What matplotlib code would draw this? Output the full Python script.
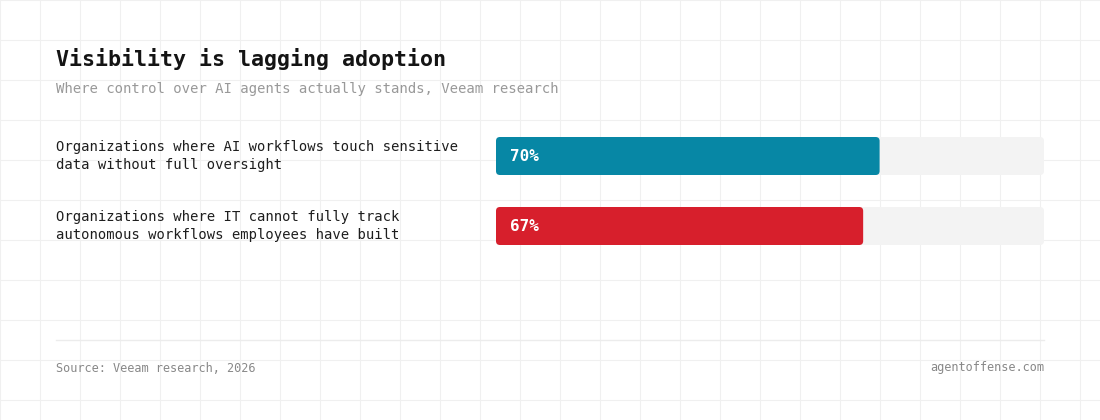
import matplotlib.pyplot as plt
from matplotlib.patches import FancyBboxPatch

# data
labels = [
    "Organizations where AI workflows touch sensitive\ndata without full oversight",
    "Organizations where IT cannot fully track\nautonomous workflows employees have built",
]
values = [70, 67]
colors = ["#0787a5", "#d71f2c"]
title = "Visibility is lagging adoption"
subtitle = "Where control over AI agents actually stands, Veeam research"
source = "Source: Veeam research, 2026"
site = "agentoffense.com"

W, H = 1100, 420
MONO = ["DejaVu Sans Mono"]

fig = plt.figure(figsize=(W / 100, H / 100), dpi=100)
fig.patch.set_facecolor("white")

# background grid + text layer in pixel coords
bg = fig.add_axes([0, 0, 1, 1], zorder=0)
bg.set_xlim(0, W)
bg.set_ylim(H, 0)
bg.set_xticks(range(0, W + 1, 40))
bg.set_yticks(range(0, H + 1, 40))
bg.grid(True, color="#f0f0f0", lw=0.8)
bg.tick_params(length=0, labelbottom=False, labelleft=False)
for s in bg.spines.values():
    s.set_visible(False)

bg.text(56, 59, title, fontsize=15.6, fontweight="bold", color="#141414",
        family=MONO, va="center", ha="left")
bg.text(56, 89, subtitle, fontsize=10.1, color="#999999",
        family=MONO, va="center", ha="left")
bg.plot([56, 1044], [339.5, 339.5], color="#ececec", lw=1)
bg.text(56, 368, source, fontsize=8.6, color="#888888",
        family=MONO, va="center", ha="left")
bg.text(1044, 368, site, fontsize=8.6, color="#888888",
        family=MONO, va="center", ha="right")

# bar axes: 496..1044 px wide, rows 70px apart centred at 156 / 226
x0, x1 = 496, 1044
yc0, step = 156, 70
ax = fig.add_axes([x0 / W, 1 - (yc0 + step * 1.5) / H, (x1 - x0) / W, 2 * step / H],
                  zorder=1)
ax.patch.set_alpha(0)
ax.set_xlim(0, 100)
ax.set_ylim(len(values) - 0.5, -0.5)
ax.axis("off")

bh = 38 / step
track = ax.barh(range(len(values)), [100] * len(values), height=bh, alpha=0)
bars = ax.barh(range(len(values)), values, height=bh, alpha=0)

px_x = (x1 - x0) / 100.0
px_y = step
r = 4 / px_x
aspect = (4 / px_y) / r


def rounded(rect, fc, z):
    p = FancyBboxPatch((rect.get_x(), rect.get_y()), rect.get_width(), rect.get_height(),
                       boxstyle=f"round,pad=0,rounding_size={r}",
                       mutation_aspect=aspect, fc=fc, ec="none", zorder=z)
    ax.add_patch(p)


for rect in track:
    rounded(rect, "#f3f3f3", 1)
for rect, c in zip(bars, colors):
    rounded(rect, c, 2)

for i, (v, lab) in enumerate(zip(values, labels)):
    ax.annotate(f"{v}%", xy=(0, i), xytext=(10, 0), textcoords="offset points",
                color="white", fontsize=11.5, fontweight="bold", family=MONO,
                va="center", ha="left", zorder=3)
    bg.text(56, yc0 + i * step, lab, fontsize=10, color="#1e1e1e", family=MONO,
            va="center", ha="left", linespacing=1.3)

fig.savefig("out.png", dpi=100, facecolor="white")
